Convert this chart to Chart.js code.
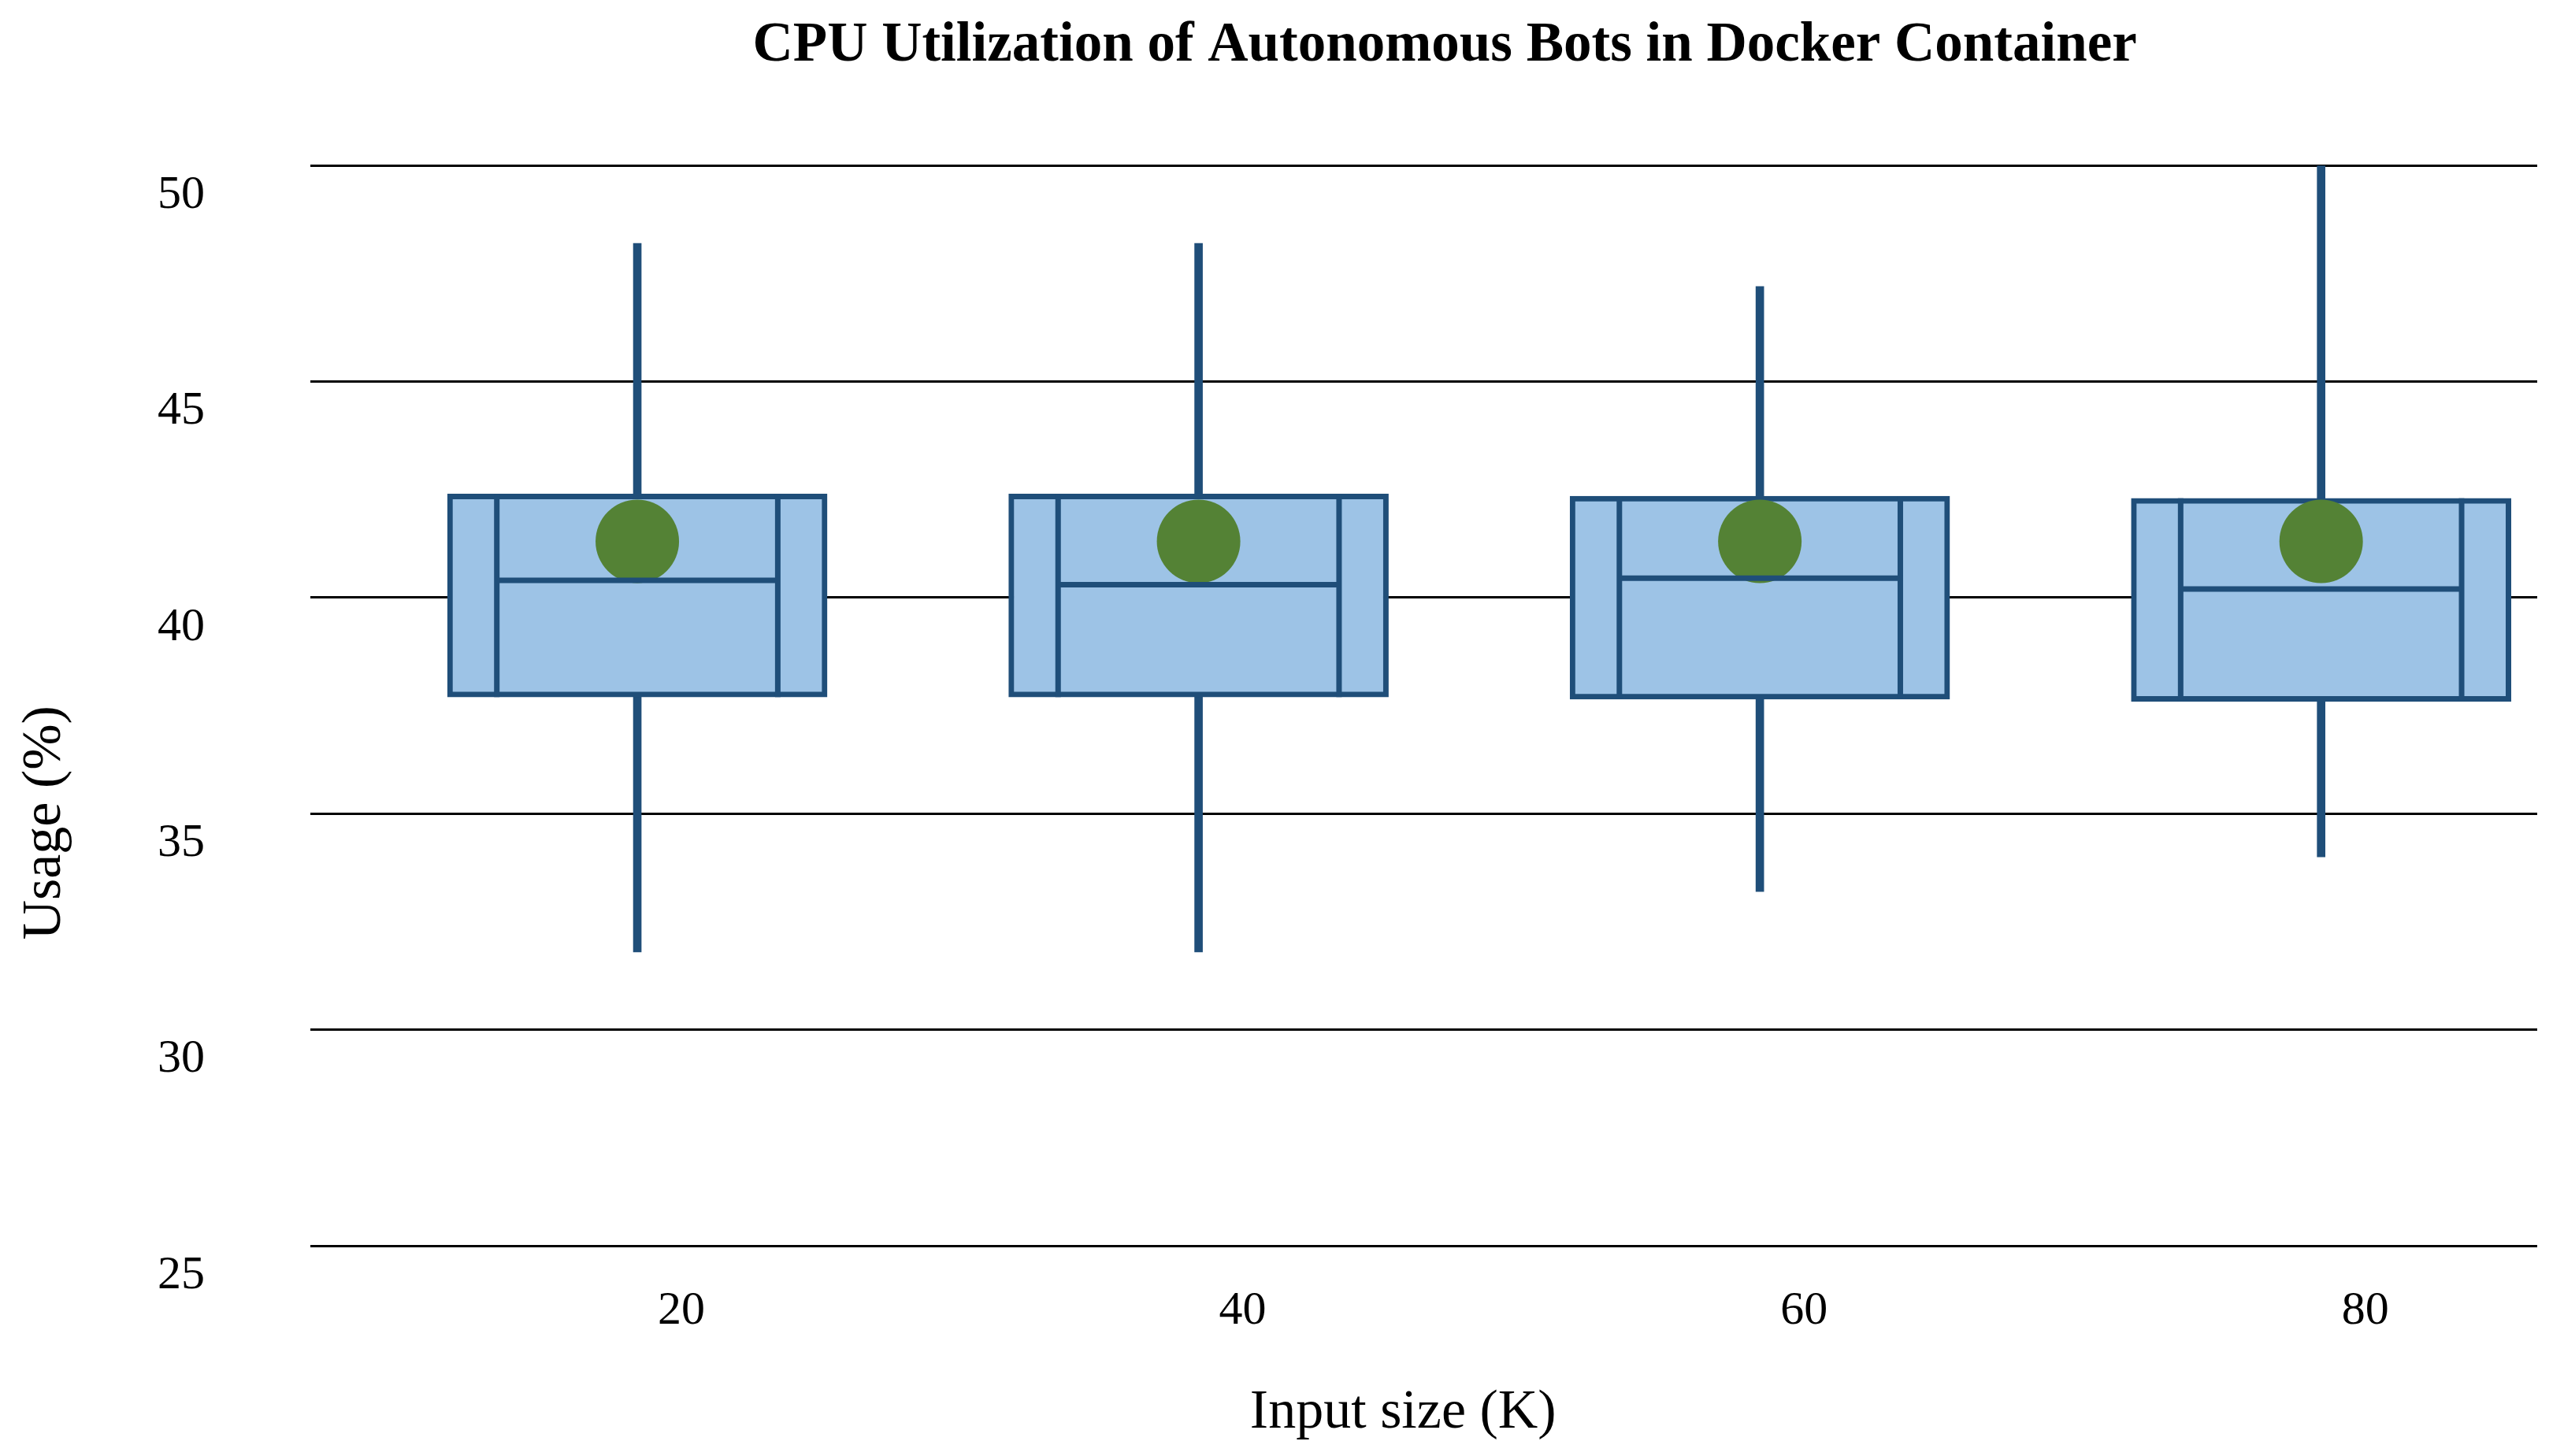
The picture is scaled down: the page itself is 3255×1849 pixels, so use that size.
<!DOCTYPE html>
<html>
<head>
<meta charset="utf-8">
<title>CPU Utilization</title>
<script src="https://cdn.jsdelivr.net/npm/chart.js@4.4.0/dist/chart.umd.min.js"></script>
<style>
  html, body { margin: 0; padding: 0; background: #ffffff; }
  #wrap { width: 3255px; height: 1849px; }
</style>
</head>
<body>
<div id="wrap"><canvas id="box-chart"></canvas></div>
<script>
// input sizes (K) and the box statistics
const sizes = [20, 40, 60, 80];
const lowWhisker = [31.8, 31.8, 33.2, 34.0];
const q1 = [37.7, 37.7, 37.65, 37.6];
const medians = [40.4, 40.3, 40.45, 40.2];
const q3 = [42.4, 42.4, 42.35, 42.3];
const highWhisker = [48.2, 48.2, 47.2, 50.0];
const means = [41.3, 41.3, 41.3, 41.3];
const yTicks = [25, 30, 35, 40, 45, 50];

const dark = '#1f4e79';
const font = "'Liberation Serif', 'Times New Roman', serif";

// inner vertical lines and the median bar, drawn on top of the boxes
const boxDetails = {
  id: 'boxDetails',
  afterDatasetsDraw(chart) {
    const ctx = chart.ctx;
    const y = chart.scales.y;
    const boxes = chart.getDatasetMeta(1).data;
    ctx.save();
    ctx.strokeStyle = dark;
    ctx.lineWidth = 7;
    boxes.forEach((bar, i) => {
      const inner = bar.width * 0.37;
      const top = y.getPixelForValue(q3[i]);
      const bottom = y.getPixelForValue(q1[i]);
      const med = y.getPixelForValue(medians[i]);
      ctx.beginPath();
      ctx.moveTo(bar.x - inner, top);
      ctx.lineTo(bar.x - inner, bottom);
      ctx.moveTo(bar.x + inner, top);
      ctx.lineTo(bar.x + inner, bottom);
      ctx.moveTo(bar.x - inner, med);
      ctx.lineTo(bar.x + inner, med);
      ctx.stroke();
    });
    ctx.restore();
  }
};

new Chart(document.getElementById('box-chart'), {
  type: 'bar',
  data: {
    datasets: [
      {
        label: 'Whiskers',
        data: sizes.map((s, i) => ({ x: s, y: [lowWhisker[i], highWhisker[i]] })),
        backgroundColor: dark,
        barThickness: 10,
        grouped: false,
        order: 3
      },
      {
        label: 'IQR',
        data: sizes.map((s, i) => ({ x: s, y: [q1[i], q3[i]] })),
        backgroundColor: '#9dc3e6',
        borderColor: dark,
        borderWidth: 7,
        borderSkipped: false,
        barThickness: 482,
        grouped: false,
        order: 2
      },
      {
        type: 'scatter',
        label: 'Mean',
        data: sizes.map((s, i) => ({ x: s, y: means[i] })),
        backgroundColor: '#548235',
        borderWidth: 0,
        pointRadius: 53,
        pointHoverRadius: 53,
        order: 1
      }
    ]
  },
  options: {
    responsive: true,
    maintainAspectRatio: false,
    animation: false,
    layout: { autoPadding: false, padding: { left: 0, right: 34, top: 0, bottom: 0 } },
    plugins: {
      legend: { display: false },
      tooltip: { enabled: false },
      title: {
        display: true,
        text: '   CPU Utilization of Autonomous Bots in Docker Container',
        fullSize: false,
        color: '#000000',
        font: { family: font, size: 71, weight: 'bold' },
        padding: { top: 16, bottom: 109 }
      }
    },
    scales: {
      x: {
        type: 'linear',
        min: 8.35,
        max: 87.7,
        offset: false,
        afterBuildTicks: (scale) => { scale.ticks = sizes.map(v => ({ value: v })); },
        afterFit: (scale) => { scale.height = 267; },
        grid: { display: false, drawTicks: false },
        border: { display: false },
        ticks: {
          color: '#000000',
          font: { family: font, size: 60 },
          padding: 47,
          labelOffset: 56
        },
        title: {
          display: true,
          text: 'Input size (K)   ',
          color: '#000000',
          font: { family: font, size: 70 },
          padding: { top: 0, bottom: 12 }
        }
      },
      y: {
        min: 25,
        max: 50,
        afterBuildTicks: (scale) => { scale.ticks = yTicks.map(v => ({ value: v })); },
        afterFit: (scale) => { scale.width = 394; },
        grid: { color: '#000000', lineWidth: 3, drawTicks: false },
        border: { display: false },
        ticks: {
          color: '#000000',
          font: { family: font, size: 60 },
          padding: 134,
          labelOffset: 38
        },
        title: {
          display: true,
          text: 'Usage (%)' + ' '.repeat(17),
          color: '#000000',
          font: { family: font, size: 70 },
          padding: { top: 16, bottom: 0 }
        }
      }
    }
  },
  plugins: [boxDetails]
});
</script>
</body>
</html>
